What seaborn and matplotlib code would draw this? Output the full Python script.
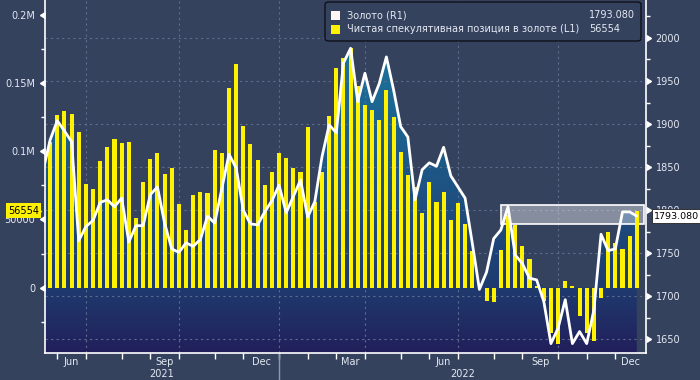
import numpy as np
import pandas as pd
import seaborn as sns
import matplotlib.pyplot as plt
import matplotlib.dates as mdates
import matplotlib.transforms as mtransforms
from matplotlib.ticker import MultipleLocator
from matplotlib.colors import LinearSegmentedColormap
from matplotlib.patches import Rectangle, FancyBboxPatch

# Weekly data (Fridays)
week_start = '2021-05-21'
week_end = '2022-12-16'

net_position = [107000, 126600, 129500, 127300, 114100, 76000, 72400, 92900, 103100, 109000,
                106300, 106800, 51300, 77500, 94300, 99000, 83400, 87800, 61400, 42300,
                68000, 70200, 69200, 101000, 98500, 146200, 164000, 118500, 105100, 93600,
                75300, 84600, 98500, 95300, 88000, 84600, 117600, 63000, 84600, 125900,
                160800, 168200, 176000, 147900, 134000, 130300, 123000, 145000, 124900, 99300,
                82600, 73600, 54500, 77300, 62600, 69900, 49600, 61900, 46700, 26900,
                0, -9500, -10300, 27600, 53300, 46000, 30600, 21000, 1200, -9500,
                -33000, -41300, 4900, 1200, -20700, -33000, -38900, -7800, 40600, 32500,
                28400, 37900, 56554]

gold_price = [1881.5, 1904, 1892, 1879.5, 1764.5, 1781, 1788, 1809, 1812, 1804,
              1814, 1763, 1782, 1782, 1818, 1827, 1785, 1755, 1751, 1762,
              1758, 1766, 1793, 1785, 1825, 1865, 1849, 1800, 1784, 1783,
              1798, 1811, 1829, 1797, 1816, 1835, 1792, 1810, 1862, 1899,
              1890, 1971, 1988, 1926, 1959, 1926, 1947, 1978, 1940, 1897,
              1885, 1812, 1847, 1855, 1851, 1873, 1840, 1827, 1814, 1762,
              1708, 1728, 1767, 1777, 1804, 1748, 1738, 1721, 1719, 1694,
              1645, 1663, 1696, 1645, 1659, 1645, 1684, 1772, 1753, 1755,
              1798, 1798, 1793.08]
# week before the window, only its segment shows at the left edge
gold_prev_date = '2021-05-14'
gold_prev_price = 1845

gold_label = 'Золото (R1)'
pos_label = 'Чистая спекулятивная позиция в золоте (L1)'

left_ticks = [0, 50000, 100000, 150000, 200000]
left_ticklabels = ['0', '50000', '0.1M', '0.15M', '0.2M']
right_ticks = [1650, 1700, 1750, 1800, 1850, 1900, 1950, 2000]
label_months = [3, 6, 9, 12]

# view window
x_from, x_to = '2021-05-16', '2022-12-25'
left_lim = (-47900, 210900)
right_lim = (1634.1, 2044.1)
highlight = (1783.5, 1806.5)
highlight_from, highlight_to = '2022-08-05', '2022-12-23'

BG = '#35425e'
YELLOW = '#fff200'
TXT = '#e4e9f2'
GRID = '#5c6d8d'

sns.set_theme(style='dark', rc={'axes.facecolor': BG, 'figure.facecolor': BG})
plt.rcParams['font.family'] = ['DejaVu Sans']

dates = pd.date_range(week_start, week_end, freq='7D')
xnum = mdates.date2num(dates)
bars = pd.DataFrame({'x': xnum, 'pos': net_position})
line_dates = pd.DatetimeIndex([pd.Timestamp(gold_prev_date)]).append(dates)
line = pd.DataFrame({'x': mdates.date2num(line_dates), 'gold': [gold_prev_price] + gold_price})

xl = (mdates.date2num(pd.Timestamp(x_from)), mdates.date2num(pd.Timestamp(x_to)))

fig = plt.figure(figsize=(7, 3.8), dpi=100)
rect = [45 / 700, 27 / 380, 601 / 700, 353 / 380]
ax_g = fig.add_axes(rect)                              # area + grid
ax_b = fig.add_axes(rect, sharex=ax_g)                 # bars, left axis
ax_l = fig.add_axes(rect, sharex=ax_g, sharey=ax_g)    # gold line, right axis
ax_g.set_facecolor(BG)
for a in (ax_b, ax_l):
    a.patch.set_visible(False)

# gradient area under the gold line (and below the left zero)
g_zero = right_lim[0] + (0 - left_lim[0]) / (left_lim[1] - left_lim[0]) * (right_lim[1] - right_lim[0])
fill_top = np.maximum(line['gold'].values, g_zero)
poly = ax_g.fill_between(line['x'], right_lim[0], fill_top, facecolor='none', lw=0)
cmap = LinearSegmentedColormap.from_list('area', [(0, '#221f5b'), (0.18, '#1f3a6e'),
                                                  (0.6, '#1d5e8c'), (1, '#1b7ea4')])
grad = np.linspace(1, 0, 256).reshape(-1, 1)
im = ax_g.imshow(grad, cmap=cmap, vmin=0, vmax=1, aspect='auto', zorder=0.5,
                 extent=[line['x'].iloc[0], line['x'].iloc[-1], right_lim[0], right_lim[1]])
im.set_clip_path(poly.get_paths()[0], transform=ax_g.transData)

# bars and line
sns.barplot(data=bars, x='x', y='pos', native_scale=True, color=YELLOW, saturation=1,
            width=0.57, errorbar=None, linewidth=0, ax=ax_b)
sns.lineplot(data=line, x='x', y='gold', color='white', lw=2, ax=ax_l)

ax_b.set_ylim(*left_lim)
ax_l.set_ylim(*right_lim)
ax_g.set_xlim(*xl)
for a in (ax_g, ax_b, ax_l):
    a.set_xlabel('')
    a.set_ylabel('')
    for s in a.spines.values():
        s.set_visible(False)

# x ticks: last week of each month, month names centred in between
per = dates.to_period('M')
month_end = pd.Series(xnum, index=dates).groupby(per).max()
ticks = month_end.iloc[:-1]
edges = list(ticks.values) + [xl[1]]
label_pos, label_txt = [], []
for i, p in enumerate(ticks.index):
    nxt = p + 1
    if nxt.month in label_months:
        label_pos.append((edges[i] + edges[i + 1]) / 2)
        label_txt.append(nxt.strftime('%b'))
ax_b.set_xticks(ticks.values)
ax_b.set_xticks(label_pos, labels=label_txt, minor=True)
ax_b.tick_params(axis='x', which='major', length=4, width=1, color='white', labelbottom=False, bottom=True)
ax_b.tick_params(axis='x', which='minor', length=0, pad=3, labelsize=7, labelcolor=TXT, labelbottom=True)
for a in (ax_g, ax_l):
    a.tick_params(axis='x', which='both', bottom=False, labelbottom=False)

# quarter grid + horizontal grid
for q, p in zip(ticks.values, ticks.index):
    if p.month in label_months:
        ax_g.axvline(q, color=GRID, ls=(0, (2, 3)), lw=0.8, zorder=1.5)
ax_g.set_yticks(right_ticks)
ax_g.grid(True, axis='y', color=GRID, ls=(0, (2, 3)), lw=0.8)
ax_g.grid(False, axis='x')
ax_g.tick_params(axis='y', which='both', left=False, labelleft=False)

# years
tb = mtransforms.blended_transform_factory(ax_b.transData, ax_b.transAxes)
sep = [q for q, p in zip(ticks.values, ticks.index) if p.month == 12][0]
ax_b.plot([sep, sep], [0, -0.08], transform=tb, color='#8e99ad', lw=1, clip_on=False)
ax_b.text((xl[0] + sep) / 2, -0.06, '2021', transform=tb, ha='center', va='center', fontsize=7, color=TXT)
ax_b.text((sep + xl[1]) / 2, -0.06, '2022', transform=tb, ha='center', va='center', fontsize=7, color=TXT)

# left axis
ax_b.set_yticks(left_ticks, labels=left_ticklabels)
ax_b.yaxis.set_minor_locator(MultipleLocator(25000))
ax_b.tick_params(axis='y', which='major', length=0, pad=7, labelsize=7, labelcolor=TXT, left=True)
ax_b.tick_params(axis='y', which='minor', length=3, width=1, color='white', left=True)
ax_b.grid(False)
for s in ('left', 'bottom'):
    ax_b.spines[s].set_visible(True)
    ax_b.spines[s].set_color('white')
    ax_b.spines[s].set_linewidth(1.2)
ty = mtransforms.blended_transform_factory(ax_b.transAxes, ax_b.transData)
ax_b.plot(np.zeros(len(left_ticks)), left_ticks, ls='none', marker=8, ms=5, color='white',
          transform=ty, clip_on=False)

# right axis
ax_l.yaxis.tick_right()
ax_l.yaxis.set_minor_locator(MultipleLocator(25))
ax_l.tick_params(axis='y', which='major', length=0, pad=7, labelsize=7, labelcolor=TXT,
                 right=True, left=False, labelright=True, labelleft=False)
ax_l.tick_params(axis='y', which='minor', length=3, width=1, color='white', right=True, left=False)
ax_l.grid(False)
ax_l.spines['right'].set_visible(True)
ax_l.spines['right'].set_color('white')
ax_l.spines['right'].set_linewidth(1.2)
tr = mtransforms.blended_transform_factory(ax_l.transAxes, ax_l.transData)
ax_l.plot(np.ones(len(right_ticks)), right_ticks, ls='none', marker=9, ms=5, color='white',
          transform=tr, clip_on=False)

# highlight box around latest price
hx0 = mdates.date2num(pd.Timestamp(highlight_from))
hx1 = mdates.date2num(pd.Timestamp(highlight_to))
ax_g.add_patch(Rectangle((hx0, highlight[0]), hx1 - hx0, highlight[1] - highlight[0],
                         facecolor=(1, 1, 1, 0.4), edgecolor='white', lw=1.2, zorder=2))

# value tags
last_pos = net_position[-1]
last_gold = gold_price[-1]
ax_b.annotate(f'{last_pos:.0f}', xy=(0, last_pos), xycoords=ty, xytext=(-6, 0), textcoords='offset pixels',
              ha='right', va='center', fontsize=7, color='black', annotation_clip=False,
              bbox=dict(boxstyle='square,pad=0.25', fc=YELLOW, ec='none'))
ax_b.plot([0], [last_pos], marker=5, ms=6, color=YELLOW, clip_on=False,
          transform=mtransforms.offset_copy(ty, fig, x=-4, y=0, units='dots'))
ax_l.plot([1], [last_gold], marker=4, ms=7, color='white', mec='#222222', mew=0.6, clip_on=False,
          transform=mtransforms.offset_copy(tr, fig, x=5, y=0, units='dots'))
ax_l.annotate(f'{last_gold:.3f}', xy=(1, last_gold), xycoords=tr, xytext=(8, 0), textcoords='offset pixels',
              ha='left', va='center', fontsize=6.8, color='black', annotation_clip=False,
              bbox=dict(boxstyle='square,pad=0.25', fc='white', ec='#222222', lw=0.6))


# legend box (pixel positions)
def fx(x):
    return x / 700


def fy(y):
    return 1 - y / 380


fig.patches.append(FancyBboxPatch((fx(325), fy(41)), fx(641) - fx(325), fy(2) - fy(41),
                                  boxstyle='round,pad=0,rounding_size=0.006', fc=BG, ec='#0d1018',
                                  lw=1, transform=fig.transFigure, zorder=5))
fig.patches.append(Rectangle((fx(331), fy(20)), fx(9), fy(0) - fy(9), fc='#fff4f2', ec='none',
                             transform=fig.transFigure, zorder=6))
fig.patches.append(Rectangle((fx(331), fy(34)), fx(9), fy(0) - fy(9), fc=YELLOW, ec='none',
                             transform=fig.transFigure, zorder=6))
fig.text(fx(347), fy(15.5), gold_label, fontsize=7, color=TXT, va='center', zorder=7)
fig.text(fx(347), fy(29.5), pos_label, fontsize=7, color=TXT, va='center', zorder=7)
fig.text(fx(589), fy(15.5), f'{last_gold:.3f}', fontsize=7, color=TXT, va='center', zorder=7)
fig.text(fx(589), fy(29.5), f'{last_pos:.0f}', fontsize=7, color=TXT, va='center', zorder=7)

fig.savefig('out.png', dpi=100, facecolor=BG)
